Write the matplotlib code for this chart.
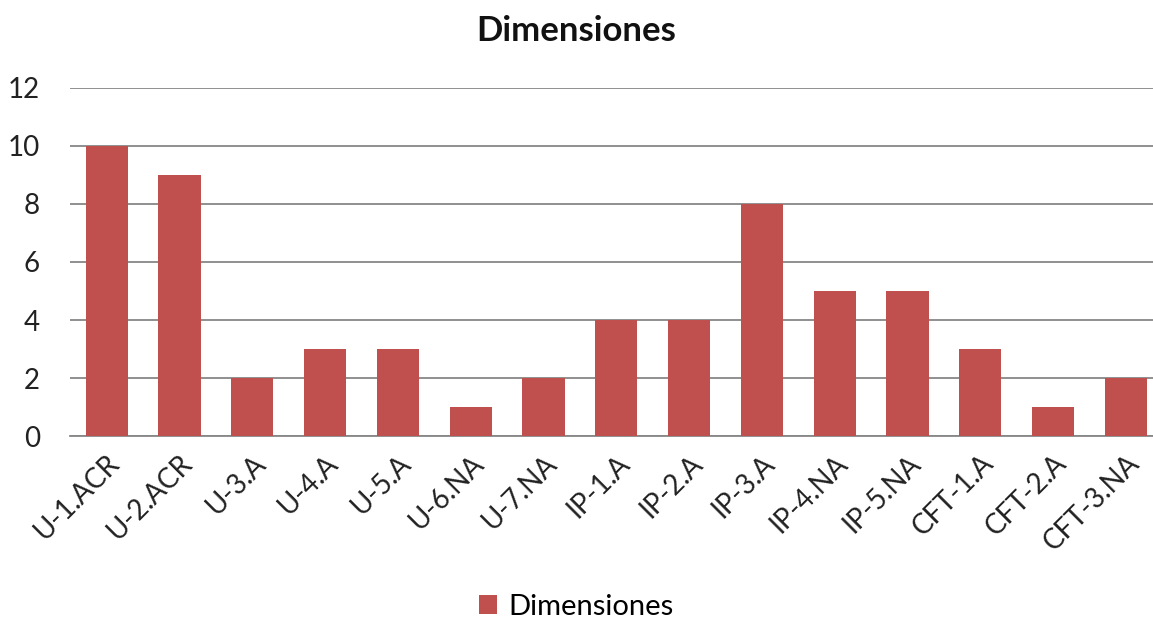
import matplotlib.pyplot as plt
import numpy as np

categories = ["U-1.ACR", "U-2.ACR", "U-3.A", "U-4.A", "U-5.A", "U-6.NA", "U-7.NA",
              "IP-1.A", "IP-2.A", "IP-3.A", "IP-4.NA", "IP-5.NA",
              "CFT-1.A", "CFT-2.A", "CFT-3.NA"]
values = [10, 9, 2, 3, 3, 1, 2, 4, 4, 8, 5, 5, 3, 1, 2]
yticks = [0, 2, 4, 6, 8, 10, 12]

plt.rcParams['font.family'] = ['Lato', 'DejaVu Sans']

fig = plt.figure(figsize=(11.53, 6.23), dpi=100)
ax = fig.add_axes([0.061, 0.300, 0.947, 0.559])

x = np.arange(len(categories))
ax.bar(x, values, width=0.58, color="#C0504D", label="Dimensiones", zorder=3)

ax.set_xlim(-0.5, len(categories) - 0.5)
ax.set_ylim(0, 12)
ax.set_yticks(yticks)
ax.yaxis.grid(True, color="#878787", linewidth=1.3, zorder=0)
for s in ["top", "right", "left"]:
    ax.spines[s].set_visible(False)
ax.spines["bottom"].set_color("#878787")
ax.spines["bottom"].set_linewidth(1.3)
ax.tick_params(axis="both", length=0, labelsize=20, colors="#222222")
ax.tick_params(axis="y", pad=22)
ax.tick_params(axis="x", pad=10)
ax.set_xticks(x)
ax.set_xticklabels(categories, rotation=45, ha="right", rotation_mode="anchor")

fig.text(0.5, 0.95, "Dimensiones", ha="center", va="center",
         fontsize=25, fontweight="bold", color="#111111")
fig.legend(loc="center", bbox_to_anchor=(0.5, 0.026), frameon=False,
           fontsize=21, handlelength=0.6, handleheight=0.6, handletextpad=0.4)

fig.savefig("out.png", dpi=100)
